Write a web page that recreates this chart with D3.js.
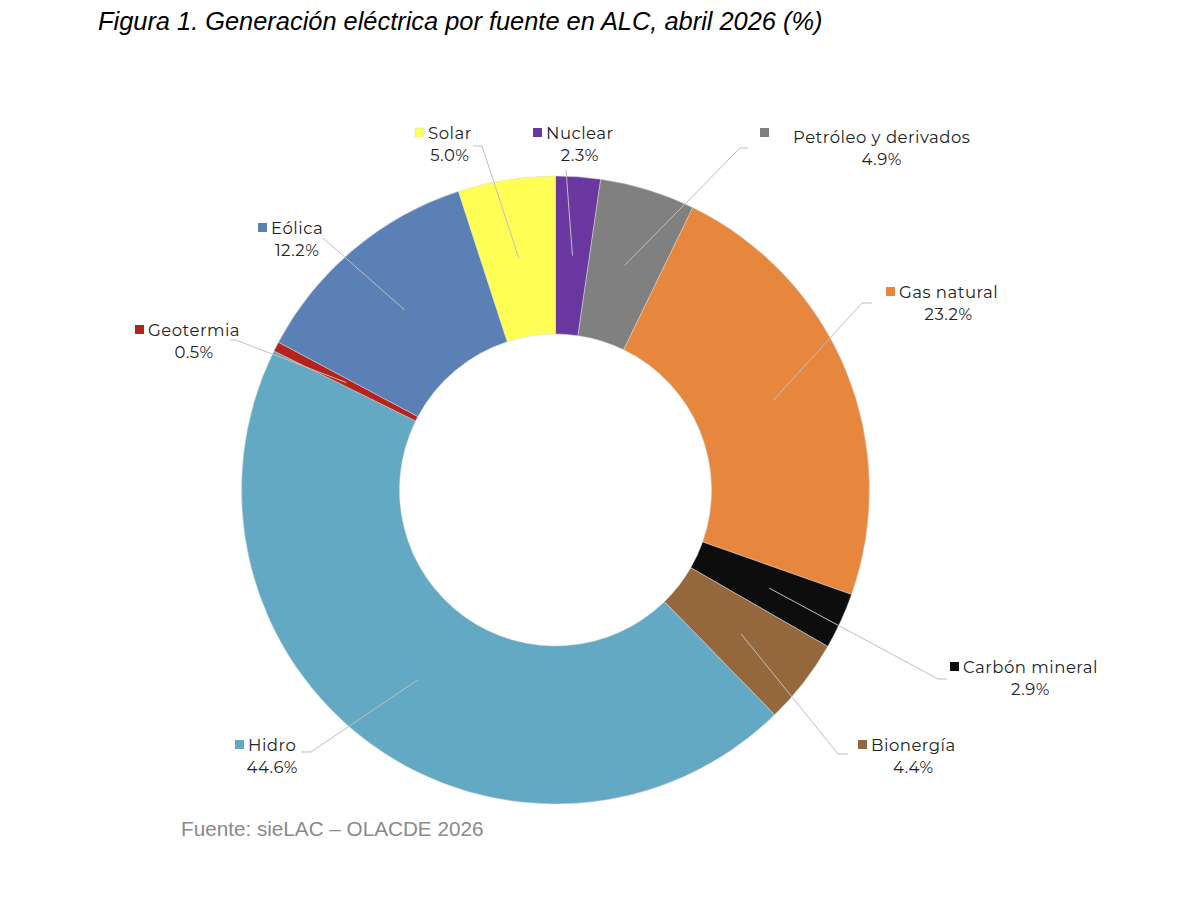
<!DOCTYPE html>
<html>
<head>
<meta charset="utf-8">
<script src="https://cdn.jsdelivr.net/npm/d3@7"></script>
<style>
  body { margin: 0; background: #fff; }
  svg { display: block; }
</style>
</head>
<body>
<svg id="chart" width="1194" height="901"></svg>
<script>
'use strict';

// data, clockwise from 12 o'clock
var sources = ['Nuclear', 'Petróleo y derivados', 'Gas natural', 'Carbón mineral', 'Bionergía',
  'Hidro', 'Geotermia', 'Eólica', 'Solar'];
var shares = [2.3, 4.9, 23.2, 2.9, 4.4, 44.6, 0.5, 12.2, 5.0];
var colors = ['#6a36a0', '#808080', '#e6873d', '#0d0d0d', '#94683c',
  '#63a9c3', '#b5241c', '#5a80b6', '#ffff55'];

// where the excel labels sit (name line start + baseline), and leader bend
var labelLayout = {
  'Nuclear': { x: 546, y: 139, bend: [566, 170], end: [566, 170] },
  'Petróleo y derivados': { x: 793, y: 143, sq: [760, 128], bend: [740, 148], end: [748, 148] },
  'Gas natural': { x: 899, y: 298, bend: [862, 303], end: [872, 303] },
  'Carbón mineral': { x: 963, y: 673, bend: [938, 679], end: [947, 679] },
  'Bionergía': { x: 871, y: 751, bend: [838, 754], end: [848, 754] },
  'Hidro': { x: 248, y: 751, bend: [311, 752], end: [301, 752] },
  'Geotermia': { x: 148, y: 336, bend: [236, 340], end: [230, 340] },
  'Eólica': { x: 271, y: 234, bend: [323, 238], end: [323, 238] },
  'Solar': { x: 428, y: 139, bend: [482, 146], end: [473, 146] }
};

var svg = d3.select('#chart');
var cx = 555.5, cy = 490;
var rOuter = 314, rInner = 156;

svg.append('text')
  .attr('x', 98)
  .attr('y', 30)
  .attr('font-family', 'Liberation Sans, Arial, sans-serif')
  .attr('font-style', 'italic')
  .attr('font-size', 25.4)
  .attr('fill', '#000')
  .text('Figura 1. Generación eléctrica por fuente en ALC, abril 2026 (%)');

var data = sources.map(function (s, i) { return { name: s, value: shares[i], color: colors[i] }; });

var pie = d3.pie().sort(null).value(function (d) { return d.value; });
var arc = d3.arc().innerRadius(rInner).outerRadius(rOuter);
var mid = d3.arc().innerRadius((rInner + rOuter) / 2).outerRadius((rInner + rOuter) / 2);

var g = svg.append('g').attr('transform', 'translate(' + cx + ',' + cy + ')');
var arcs = pie(data);

g.selectAll('path.slice')
  .data(arcs)
  .enter()
  .append('path')
  .attr('class', 'slice')
  .attr('d', arc)
  .attr('fill', function (d) { return d.data.color; })
  .attr('stroke', '#d9d9d9')
  .attr('stroke-width', 0.5);

// leader lines
svg.selectAll('polyline.leader')
  .data(arcs)
  .enter()
  .append('polyline')
  .attr('class', 'leader')
  .attr('fill', 'none')
  .attr('stroke', '#bfbfbf')
  .attr('stroke-width', 1)
  .attr('points', function (d) {
    var c = mid.centroid(d);
    var L = labelLayout[d.data.name];
    return [[cx + c[0], cy + c[1]], L.bend, L.end].map(function (p) { return p.join(','); }).join(' ');
  });

var font = 'Montserrat, "Open Sans", "Noto Sans", sans-serif';
var labels = svg.selectAll('g.lbl')
  .data(arcs)
  .enter()
  .append('g')
  .attr('class', 'lbl');

labels.each(function (d) {
  var L = labelLayout[d.data.name];
  var el = d3.select(this);
  var sq = L.sq || [L.x - 13, L.y - 11];
  el.append('rect')
    .attr('x', sq[0])
    .attr('y', sq[1])
    .attr('width', 9)
    .attr('height', 9)
    .attr('fill', d.data.color)
    .attr('stroke', d.data.name === 'Solar' ? '#d9d9d9' : 'none')
    .attr('stroke-width', 0.5);
  var name = el.append('text')
    .attr('x', L.x)
    .attr('y', L.y)
    .attr('font-family', font)
    .attr('font-size', 16.5)
    .attr('letter-spacing', 0.5)
    .attr('fill', '#222')
    .text(d.data.name);
  var w = name.node().getComputedTextLength();
  el.append('text')
    .attr('x', L.x + w / 2)
    .attr('y', L.y + 22)
    .attr('text-anchor', 'middle')
    .attr('font-family', font)
    .attr('font-size', 16.5)
    .attr('letter-spacing', 0.5)
    .attr('fill', '#222')
    .text(d3.format('.1f')(d.data.value) + '%');
});

svg.append('text')
  .attr('x', 181)
  .attr('y', 836)
  .attr('font-family', 'Liberation Sans, Arial, sans-serif')
  .attr('font-size', 20.7)
  .attr('fill', '#8a8a8a')
  .text('Fuente: sieLAC – OLACDE 2026');
</script>
</body>
</html>
